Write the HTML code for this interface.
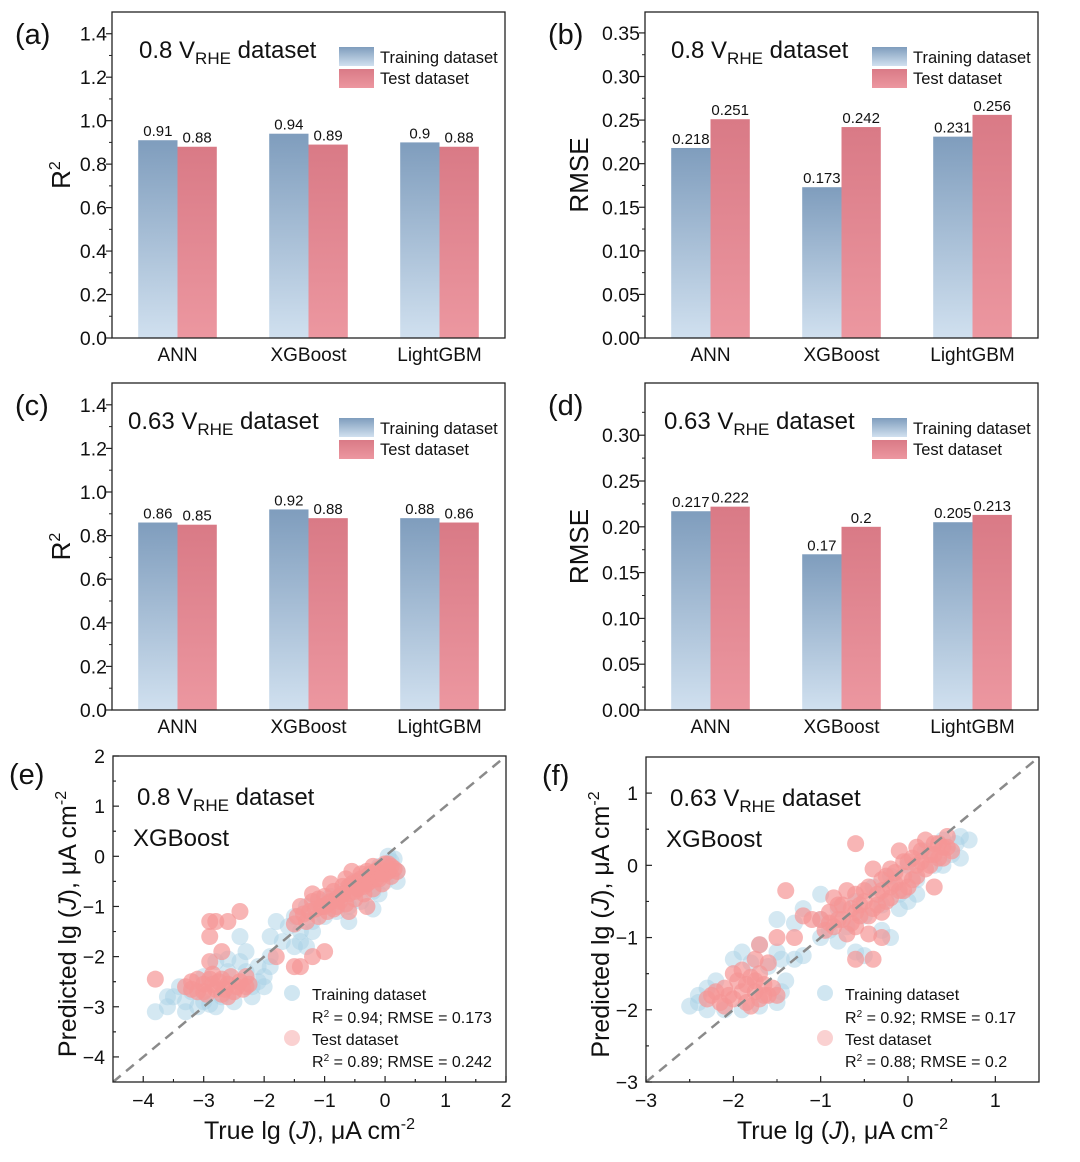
<!DOCTYPE html>
<html><head><meta charset="utf-8">
<style>
html,body{margin:0;padding:0;background:#fff}
svg{display:block;font-family:"Liberation Sans",Arial,sans-serif}
</style></head>
<body>
<svg id="fig" width="1080" height="1162" viewBox="0 0 1080 1162" xmlns="http://www.w3.org/2000/svg">
<defs>
<linearGradient id="gTrain" x1="0" y1="0" x2="0" y2="1"><stop offset="0" stop-color="#7f9dbd"/><stop offset="1" stop-color="#d0e0ef"/></linearGradient>
<linearGradient id="gTest" x1="0" y1="0" x2="0" y2="1"><stop offset="0" stop-color="#d97a86"/><stop offset="1" stop-color="#ec97a0"/></linearGradient>
</defs>
</svg>
<script>
const categories = ["ANN","XGBoost","LightGBM"];
const aTrain = [0.91,0.94,0.9];
const aTest = [0.88,0.89,0.88];
const bTrain = [0.218,0.173,0.231];
const bTest = [0.251,0.242,0.256];
const cTrain = [0.86,0.92,0.88];
const cTest = [0.85,0.88,0.86];
const dTrain = [0.217,0.17,0.205];
const dTest = [0.222,0.2,0.213];
const r2Ticks = ["0.0","0.2","0.4","0.6","0.8","1.0","1.2","1.4"];
const rmseTicksB = ["0.00","0.05","0.10","0.15","0.20","0.25","0.30","0.35"];
const rmseTicksD = ["0.00","0.05","0.10","0.15","0.20","0.25","0.30"];
const eTicks = ["-4","-3","-2","-1","0","1","2"];
const fTicksX = ["-3","-2","-1","0","1"];
const fTicksY = ["-3","-2","-1","0","1"];

const eTrain = [[-1.6,-1.4],[-1.5,-1.2],[-1.4,-1.5],[-1.3,-1.0],[-1.2,-1.3],[-1.1,-0.9],[-1.0,-1.2],[-0.9,-0.8],[-0.8,-1.1],[-0.7,-0.7],[-0.6,-1.0],[-0.5,-0.5],[-0.4,-0.9],[-0.3,-0.4],[-0.2,-0.7],[-0.1,-0.2],[0,-0.5],[0.1,-0.1],[0.2,-0.3],[0.15,-0.05],[-0.6,-1.3],[-1.7,-1.7],[-1.9,-1.6],[-1.3,-1.8],[-1.5,-1.8],[-1.9,-2.0],[-0.2,-1.05],[0.05,0.0],[-1.2,-1.5],[-1.4,-1.7],[-0.1,-0.75],[0.2,-0.5],
[-3.8,-3.1],[-3.6,-3.0],[-3.5,-2.8],[-3.3,-3.1],[-3.2,-2.7],[-3.0,-2.9],[-3.0,-2.4],[-2.8,-3.0],[-2.6,-2.3],[-2.5,-2.9],[-2.3,-2.3],[-2.2,-2.6],[-2.1,-2.2],[-2.0,-2.4],[-1.9,-2.2],[-2.4,-2.1],[-2.8,-2.1],[-2.4,-1.6],[-2.3,-1.9],[-3.4,-2.6],[-2.7,-2.8],[-2.2,-2.8],[-1.8,-1.3],[-2.6,-2.05],[-3.6,-2.8],[-3.3,-2.9],[-3.1,-3.0],[-2.9,-2.95],[-2.1,-2.5],[-2.0,-2.6]];
const eTest = [[-1.45,-1.2],[-1.4,-1.0],[-1.3,-1.3],[-1.25,-1.1],[-1.2,-0.9],[-1.1,-1.2],[-1.05,-1.0],[-1.0,-0.8],[-0.95,-1.1],[-0.9,-0.9],[-0.85,-0.7],[-0.8,-1.0],[-0.75,-0.8],[-0.7,-0.6],[-0.65,-0.95],[-0.6,-0.75],[-0.55,-0.55],[-0.5,-0.85],[-0.45,-0.65],[-0.4,-0.45],[-0.35,-0.75],[-0.3,-0.55],[-0.25,-0.35],[-0.2,-0.65],[-0.15,-0.45],[-0.1,-0.25],[-0.05,-0.55],[0,-0.35],[0.05,-0.15],[0.1,-0.4],[0.15,-0.25],[0.2,-0.3],[-0.55,-0.3],[-0.9,-0.55],[-1.2,-0.75],
[-1.35,-1.15],[-1.15,-1.05],[-0.95,-0.95],[-0.75,-0.9],[-0.7,-0.75],[-0.6,-0.6],[-0.45,-0.5],[-0.35,-0.6],[-0.25,-0.5],[-0.15,-0.3],[-0.05,-0.35],[0.05,-0.3],[-0.5,-0.7],[-0.8,-0.85],[-1.0,-1.0],[-0.3,-0.3],[-0.1,-0.45],[0.1,-0.2],[-0.65,-0.45],[-1.1,-0.85],[-0.4,-0.35],[-0.2,-0.2],[0.0,-0.15],[-0.85,-1.05],[-1.5,-1.35],
[-3.8,-2.45],[-2.9,-1.3],[-2.8,-1.3],[-2.6,-1.3],[-2.4,-1.1],[-2.9,-1.6],[-1.8,-2.0],[-1.5,-2.2],[-1.4,-2.2],[-1.2,-2.0],[-1.0,-1.9],[-2.9,-2.1],[-2.7,-1.9],[-0.6,-1.1],[-0.3,-1.0],
[-3.3,-2.6],[-3.2,-2.5],[-3.1,-2.7],[-3.0,-2.55],[-2.95,-2.75],[-2.9,-2.45],[-2.8,-2.65],[-2.75,-2.5],[-2.7,-2.75],[-2.6,-2.55],[-2.55,-2.4],[-2.5,-2.7],[-2.4,-2.5],[-2.35,-2.65],[-2.3,-2.4],[-2.25,-2.55],[-3.1,-2.45],[-2.6,-2.8],[-2.85,-2.35],[-3.0,-2.7],[-2.85,-2.55],[-2.65,-2.65],[-2.45,-2.6],[-2.3,-2.6],[-2.7,-2.45],[-3.2,-2.65]];
const fTrain = [[-1.0,-0.75],[-0.9,-0.9],[-0.8,-0.6],[-0.7,-0.85],[-0.6,-0.5],[-0.5,-0.7],[-0.4,-0.3],[-0.3,-0.55],[-0.2,-0.15],[-0.1,-0.4],[0,0.0],[0.1,-0.2],[0.2,0.2],[0.3,0.0],[0.4,0.35],[0.5,0.15],[0.6,0.4],[0.7,0.35],[0.6,0.1],[-1.0,-0.4],[-1.2,-0.6],[-1.0,-1.0],[-0.8,-1.05],[-0.3,-0.9],[-0.2,-1.0],[0.1,-0.4],[-0.6,-1.2],[-0.5,-1.25],[0.0,-0.5],[0.55,0.3],[0.4,0.0],[-0.1,-0.6],
[-2.5,-1.95],[-2.4,-1.8],[-2.3,-2.0],[-2.1,-2.0],[-1.9,-2.0],[-1.7,-1.95],[-1.5,-1.9],[-1.4,-1.6],[-1.45,-1.3],[-1.6,-1.4],[-2.2,-1.6],[-1.8,-1.35],[-1.5,-1.2],[-1.7,-1.1],[-1.9,-1.2],[-2.0,-1.3],[-2.3,-1.7],[-1.3,-1.3],[-1.3,-0.8],[-1.5,-0.75],[-1.2,-1.25],[-2.4,-1.9],[-1.45,-1.75]];
const fTest = [[-1.0,-0.75],[-0.95,-0.9],[-0.9,-0.65],[-0.85,-0.85],[-0.8,-0.55],[-0.75,-0.75],[-0.7,-0.95],[-0.65,-0.6],[-0.6,-0.4],[-0.55,-0.7],[-0.5,-0.5],[-0.45,-0.3],[-0.4,-0.6],[-0.35,-0.4],[-0.3,-0.2],[-0.25,-0.5],[-0.2,-0.3],[-0.15,-0.1],[-0.1,-0.35],[-0.05,-0.15],[0,0.05],[0.05,-0.2],[0.1,0.0],[0.15,0.2],[0.2,-0.05],[0.25,0.15],[0.3,0.3],[0.35,0.1],[0.4,0.25],[0.45,0.4],[0.5,0.2],[-0.6,-0.85],[-0.3,-0.65],[0,-0.3],[-0.7,-0.35],[-0.4,-0.05],[-0.1,0.2],[0.2,0.35],[-0.85,-0.45],
[-0.9,-0.8],[-0.8,-0.75],[-0.75,-0.55],[-0.65,-0.8],[-0.55,-0.55],[-0.5,-0.35],[-0.45,-0.7],[-0.35,-0.55],[-0.3,-0.35],[-0.25,-0.15],[-0.2,-0.45],[-0.15,-0.25],[-0.05,-0.35],[-0.05,0.05],[0.05,0.1],[0.1,-0.15],[0.15,0.05],[0.25,0.0],[0.3,0.15],[0.35,0.3],[0.4,0.1],[0.45,0.25],[-0.6,-0.65],[-0.2,-0.05],[0.1,0.25],
[-1.2,-0.7],[-1.1,-0.75],[-1.4,-0.35],[-0.6,0.3],[-0.3,-1.0],[-0.6,-1.3],[-0.4,-1.3],[-0.45,-0.95],[0.3,-0.3],[-1.7,-1.1],[-1.6,-1.35],[-1.75,-1.3],[-1.3,-1.0],[-1.5,-1.0],
[-2.3,-1.85],[-2.2,-1.75],[-2.15,-1.9],[-2.1,-1.7],[-2.0,-1.85],[-1.95,-1.6],[-1.9,-1.75],[-1.85,-1.9],[-1.8,-1.55],[-1.75,-1.75],[-1.7,-1.85],[-1.65,-1.65],[-1.6,-1.8],[-1.55,-1.7],[-1.5,-1.8],[-2.0,-1.5],[-1.9,-1.45],[-1.7,-1.5],[-2.1,-1.95],[-1.8,-1.95],[-2.05,-1.8],[-1.85,-1.65],[-1.65,-1.8],[-2.25,-1.8],[-1.75,-1.6]];

const NS="http://www.w3.org/2000/svg";
const svg=document.getElementById('fig');
function mk(tag,attrs,parent){const e=document.createElementNS(NS,tag);for(const k in attrs)e.setAttribute(k,attrs[k]);(parent||svg).appendChild(e);return e;}
function txt(s,x,y,size,anchor,parent){const t=mk('text',{x:x,y:y,'font-size':size,'text-anchor':anchor||'start',fill:'#111'},parent);t.innerHTML=s;return t;}

function barPanel(id,L,T,R,B,ymax,ticks,step,train,test,label,title,ytitle,ytx,titleX){
  const g=mk('g',{});
  
  
  const y=v=>B-(v/ymax)*(B-T);
  const cw=(R-L)/categories.length, bw=cw*0.3;
  categories.forEach((c,i)=>{
    const cx=L+cw*(i+0.5);
    const r1=mk('rect',{x:cx-bw,y:y(train[i]),width:bw,height:B-y(train[i]),fill:'url(#gTrain)'},g);
    
    
    const r2=mk('rect',{x:cx,y:y(test[i]),width:bw,height:B-y(test[i]),fill:'url(#gTest)'},g);
    
    
    const l1=txt(String(train[i]),cx-bw/2,y(train[i])-4,15,'middle',g);
    
    
    const l2=txt(String(test[i]),cx+bw/2,y(test[i])-4,15,'middle',g);
    
    
    const xl=txt(c,cx,B+23,19,'middle',g);
    
    
  });
  ticks.forEach((t,i)=>{
    const v=i*step, yy=y(v);
    mk('line',{x1:L-6,x2:L,y1:yy,y2:yy,stroke:'#222','stroke-width':1.2},g);
    const tl=txt(t,L-5,yy+7,19.5,'end',g);
    
    
    const mv=v+step/2;
    if(mv<ymax) mk('line',{x1:L-3,x2:L,y1:y(mv),y2:y(mv),stroke:'#222','stroke-width':1},g);
  });
  const fr=mk('rect',{x:L,y:T,width:R-L,height:B-T,fill:'none',stroke:'#222','stroke-width':1.3},g);
  
  
  const pl=txt('('+label+')',L-97,T+32,29,'start',g);
  
  
  const tt=txt(title+' V<tspan font-size="17" dy="6">RHE</tspan><tspan dy="-6"> dataset</tspan>',titleX,T+46,24,'start',g);
  
  
  const yt=txt(ytitle,0,0,26,'middle',g);
  yt.setAttribute('transform','translate('+ytx+','+((T+B)/2)+') rotate(-90)');
  
  
  const lg=mk('g',{},g);
  
  
  mk('rect',{x:R-166,y:T+35,width:35,height:19,fill:'url(#gTrain)'},lg);
  mk('rect',{x:R-166,y:T+57,width:35,height:19,fill:'url(#gTest)'},lg);
  txt('Training dataset',R-125,T+51,16.5,'start',lg);
  txt('Test dataset',R-125,T+72,16.5,'start',lg);
}
barPanel('a',112,12,505,338,1.5,r2Ticks,0.2,aTrain,aTest,'a','0.8','R<tspan font-size="16" dy="-10">2</tspan>',70,139);
barPanel('b',645,12,1038,338,0.374,rmseTicksB,0.05,bTrain,bTest,'b','0.8','RMSE',588,671);
barPanel('c',112,383,505,710,1.5,r2Ticks,0.2,cTrain,cTest,'c','0.63','R<tspan font-size="16" dy="-10">2</tspan>',70,128);
barPanel('d',645,383,1038,710,0.357,rmseTicksD,0.05,dTrain,dTest,'d','0.63','RMSE',588,664);

function scatterPanel(id,L,T,R,B,xmin,xmax,ymin,ymax,xt,yt,train,test,label,title,r2a,r2b){
  const g=mk('g',{});
  
  
  const sx=v=>L+(v-xmin)/(xmax-xmin)*(R-L);
  const sy=v=>B-(v-ymin)/(ymax-ymin)*(B-T);
  const cp=mk('clipPath',{id:'clip'+id},g);
  mk('rect',{x:L,y:T,width:R-L,height:B-T},cp);
  const pts=mk('g',{'clip-path':'url(#clip'+id+')'},g);
  const gt=mk('g',{fill:'#a9d2e6','fill-opacity':0.5},pts);
  
  
  train.forEach(p=>{mk('circle',{cx:sx(p[0]),cy:sy(p[1]),r:8.5},gt);});
  const gs=mk('g',{fill:'#f59595','fill-opacity':0.7},pts);
  
  
  test.forEach(p=>{mk('circle',{cx:sx(p[0]),cy:sy(p[1]),r:8.5},gs);});
  const dl=mk('line',{x1:sx(Math.max(xmin,ymin)),y1:sy(Math.max(xmin,ymin)),x2:sx(Math.min(xmax,ymax)),y2:sy(Math.min(xmax,ymax)),stroke:'#8a8a8a','stroke-width':2.5,'stroke-dasharray':'10,7'},pts);
  
  
  xt.forEach(t=>{const v=+t,xx=sx(v);
    mk('line',{x1:xx,x2:xx,y1:B,y2:B-6,stroke:'#222','stroke-width':1.2},g);
    if(v+0.5<xmax+1e-9) mk('line',{x1:sx(v+0.5),x2:sx(v+0.5),y1:B,y2:B-3,stroke:'#222'},g);
    if(v-0.5>=xmin-1e-9) mk('line',{x1:sx(v-0.5),x2:sx(v-0.5),y1:B,y2:B-3,stroke:'#222'},g);
    const l=txt(t.replace('-','−'),xx,B+25,19.5,'middle',g);
    
    });
  yt.forEach(t=>{const v=+t,yy=sy(v);
    mk('line',{x1:L,x2:L+6,y1:yy,y2:yy,stroke:'#222','stroke-width':1.2},g);
    if(v+0.5<ymax+1e-9) mk('line',{x1:L,x2:L+3,y1:sy(v+0.5),y2:sy(v+0.5),stroke:'#222'},g);
    if(v-0.5>=ymin-1e-9) mk('line',{x1:L,x2:L+3,y1:sy(v-0.5),y2:sy(v-0.5),stroke:'#222'},g);
    const l=txt(t.replace('-','−'),L-8,yy+7,19.5,'end',g);
    
    });
  const fr=mk('rect',{x:L,y:T,width:R-L,height:B-T,fill:'none',stroke:'#222','stroke-width':1.3},g);
  
  
  const pl=txt('('+label+')',L-104,T+28,29,'start',g);
  
  
  const tt=txt(title+' V<tspan font-size="17" dy="6">RHE</tspan><tspan dy="-6"> dataset</tspan>',L+24,T+49,24,'start',g);
  
  
  const t2=txt('XGBoost',L+20,T+90,24,'start',g);
  
  
  const xa=txt('True lg (<tspan font-style="italic">J</tspan>), μA cm<tspan font-size="16" dy="-10">-2</tspan>',(L+R)/2,B+57,25,'middle',g);
  
  
  const ya=txt('Predicted lg (<tspan font-style="italic">J</tspan>), μA cm<tspan font-size="16" dy="-10">-2</tspan>',0,0,25,'middle',g);
  ya.setAttribute('transform','translate('+(L-37)+','+((T+B)/2+5)+') rotate(-90)');
  
  
  const lg=mk('g',{},g);
  
  
  const lx=R-194;
  mk('circle',{cx:lx-20,cy:B-89,r:8,fill:'#a9d2e6','fill-opacity':0.55},lg);
  mk('circle',{cx:lx-20,cy:B-44,r:8,fill:'#f59a9a','fill-opacity':0.45},lg);
  txt('Training dataset',lx,B-82,16,'start',lg);
  txt('R<tspan font-size="10" dy="-6">2</tspan><tspan dy="6"> = '+r2a+'</tspan>',lx,B-59,16,'start',lg);
  txt('Test dataset',lx,B-37,16,'start',lg);
  txt('R<tspan font-size="10" dy="-6">2</tspan><tspan dy="6"> = '+r2b+'</tspan>',lx,B-15,16,'start',lg);
}
scatterPanel('e',113,756,506,1082,-4.5,2,-4.5,2,eTicks,["-4","-3","-2","-1","0","1","2"],eTrain,eTest,'e','0.8','0.94; RMSE = 0.173','0.89; RMSE = 0.242');
scatterPanel('f',646,757,1039,1082,-3,1.5,-3,1.5,fTicksX,fTicksY,fTrain,fTest,'f','0.63','0.92; RMSE = 0.17','0.88; RMSE = 0.2');
</script>
</body></html>
